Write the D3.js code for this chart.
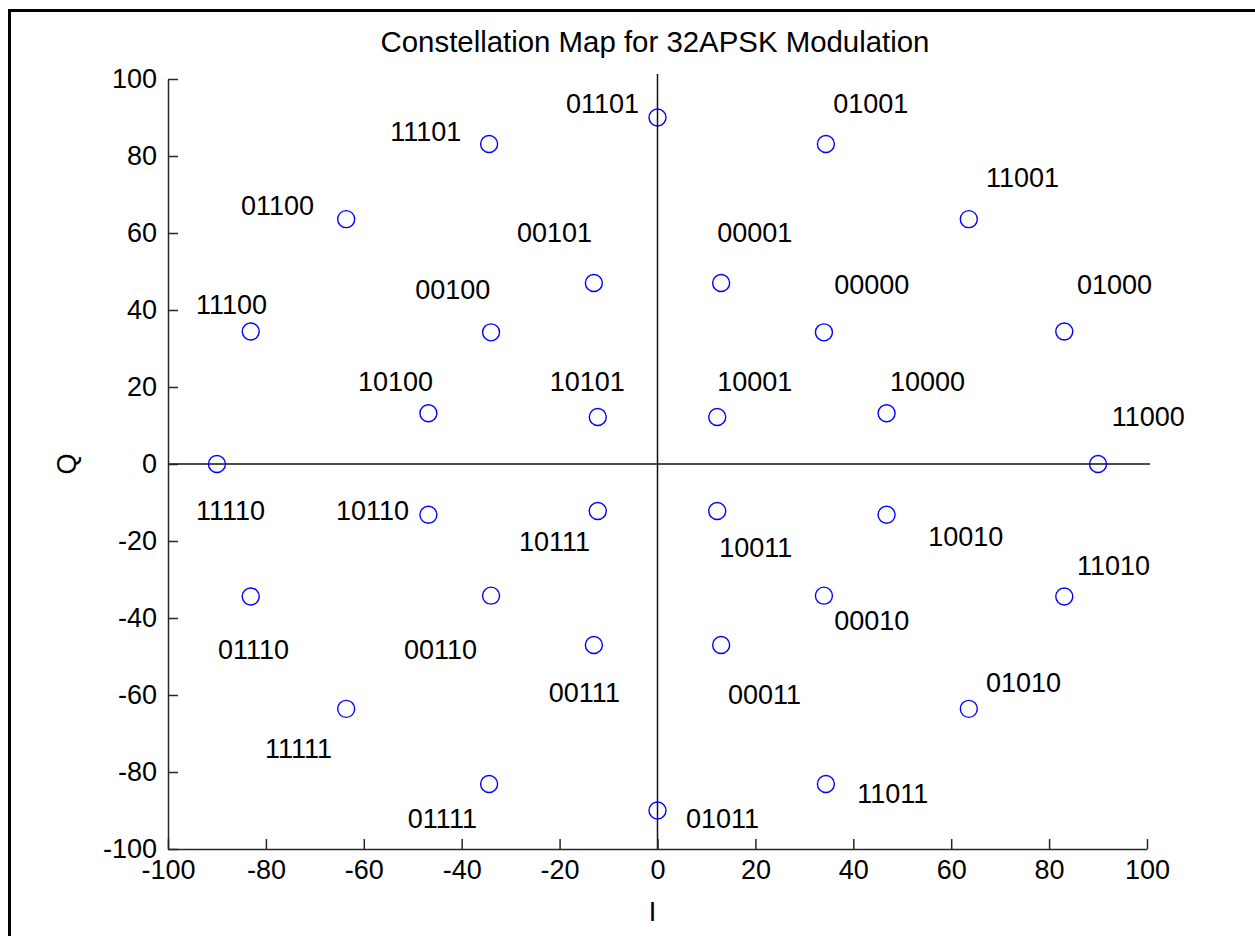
<!DOCTYPE html>
<html>
<head>
<meta charset="utf-8">
<script src="https://cdn.jsdelivr.net/npm/d3@7"></script>
<style>
  html, body { margin: 0; padding: 0; background: #fff; }
  svg { display: block; font-family: "Liberation Sans", Arial, sans-serif; }
</style>
</head>
<body>
<svg id="chart" width="1255" height="936"></svg>
<script>
// 32APSK symbol set: in-phase (I) and quadrature (Q) components with bit labels
const symbolBits = [
  "01101","01001","11001","01000","11000","11010","01010","11011",
  "01011","01111","11111","01110","11110","11100","01100","11101",
  "00001","00000","10000","10010","00010","00011","00111","00110",
  "10110","10100","00100","00101",
  "10001","10011","10111","10101"
];
const symbolI = [
  0, 34.4, 63.6, 83.1, 90, 83.1, 63.6, 34.4,
  0, -34.4, -63.6, -83.1, -90, -83.1, -63.6, -34.4,
  13.0, 34.0, 46.8, 46.8, 34.0, 13.0, -13.0, -34.0,
  -46.8, -46.8, -34.0, -13.0,
  12.2, 12.2, -12.2, -12.2
];
const symbolQ = [
  90, 83.1, 63.6, 34.4, 0, -34.4, -63.6, -83.1,
  -90, -83.1, -63.6, -34.4, 0, 34.4, 63.6, 83.1,
  47.0, 34.2, 13.2, -13.2, -34.2, -47.0, -47.0, -34.2,
  -13.2, 13.2, 34.2, 47.0,
  12.2, -12.2, -12.2, 12.2
];
// text anchor (left edge, vertical middle) for each bit label, in I/Q units
const labelI = [
  -18.7, 35.9, 67.1, 85.7, 92.8, 85.7, 67.1, 40.8,
  5.8, -51.0, -80.2, -89.8, -94.3, -94.3, -85.1, -54.6,
  12.2, 36.1, 47.5, 55.3, 36.1, 14.4, -22.2, -51.8,
  -65.7, -61.2, -49.5, -28.7,
  12.2, 12.6, -28.3, -22.0
];
const labelQ = [
  93.6, 93.6, 74.6, 46.8, 12.3, -26.4, -56.8, -85.4,
  -91.9, -91.9, -73.9, -48.2, -11.9, 41.4, 67.1, 86.3,
  60.1, 46.8, 21.4, -18.9, -40.7, -59.7, -59.2, -48.2,
  -11.9, 21.4, 45.5, 60.1,
  21.4, -21.7, -20.2, 21.4
];
const tickValues = [-100, -80, -60, -40, -20, 0, 20, 40, 60, 80, 100];

const titleText = "Constellation Map for 32APSK Modulation";
const xLabel = "I";
const yLabel = "Q";

const svg = d3.select("#chart");

// figure frame
svg.append("rect")
  .attr("x", 9.5).attr("y", 10.5)
  .attr("width", 1400).attr("height", 1000)
  .attr("fill", "none").attr("stroke", "#000").attr("stroke-width", 3);

const x = d3.scaleLinear().domain([-100, 100]).range([168, 1147]);
const y = d3.scaleLinear().domain([-100, 100]).range([849, 79]);

const plot = svg.append("g");

// crosshair through the origin
plot.append("line")
  .attr("x1", x(-100)).attr("x2", x(100.6))
  .attr("y1", y(0)).attr("y2", y(0))
  .attr("stroke", "#111").attr("stroke-width", 1.5);
plot.append("line")
  .attr("x1", x(0)).attr("x2", x(0))
  .attr("y1", y(-100)).attr("y2", y(101.3))
  .attr("stroke", "#111").attr("stroke-width", 1.5);

// axes (left and bottom, ticks pointing inward), plain hyphen minus signs
const fmt = d => String(d);
const xAxis = d3.axisBottom(x).tickValues(tickValues).tickFormat(fmt)
  .tickSizeInner(-10).tickSizeOuter(0).tickPadding(11);
const yAxis = d3.axisLeft(y).tickValues(tickValues).tickFormat(fmt)
  .tickSizeInner(-10).tickSizeOuter(0).tickPadding(11);

const gx = svg.append("g").attr("transform", `translate(0,${y(-100)})`).call(xAxis);
const gy = svg.append("g").attr("transform", `translate(${x(-100)},0)`).call(yAxis);
[gx, gy].forEach(g => {
  g.select(".domain").attr("stroke", "#262626").attr("stroke-width", 1.5);
  g.selectAll(".tick line").attr("stroke", "#262626").attr("stroke-width", 1.5);
  g.selectAll(".tick text")
    .attr("fill", "#000")
    .style("font-family", '"Liberation Sans", Arial, sans-serif')
    .style("font-size", "27px");
});
gy.selectAll(".tick text").attr("dy", "0.3em");

// symbol markers
const pts = symbolI.map((v, i) => ({ i: v, q: symbolQ[i] }));
plot.selectAll("circle.sym").data(pts).enter().append("circle")
  .attr("class", "sym")
  .attr("cx", d => x(d.i)).attr("cy", d => y(d.q))
  .attr("r", 8.5)
  .attr("fill", "none").attr("stroke", "#0000ff").attr("stroke-width", 1.4);

// bit labels
const labels = symbolBits.map((b, k) => ({ b, i: labelI[k], q: labelQ[k] }));
plot.selectAll("text.bits").data(labels).enter().append("text")
  .attr("class", "bits")
  .attr("x", d => x(d.i)).attr("y", d => y(d.q))
  .attr("dy", "0.36em")
  .attr("fill", "#000")
  .style("font-size", "27px")
  .text(d => d.b);

// title and axis labels
svg.append("text")
  .attr("x", 655).attr("y", 52)
  .attr("text-anchor", "middle")
  .style("font-size", "29.4px")
  .text(titleText);
svg.append("text")
  .attr("x", x(0) - 5).attr("y", 921)
  .attr("text-anchor", "middle")
  .style("font-size", "27px")
  .text(xLabel);
svg.append("text")
  .attr("transform", `translate(76,${y(0)}) rotate(-90)`)
  .attr("text-anchor", "middle")
  .style("font-size", "27px")
  .text(yLabel);
</script>
</body>
</html>
